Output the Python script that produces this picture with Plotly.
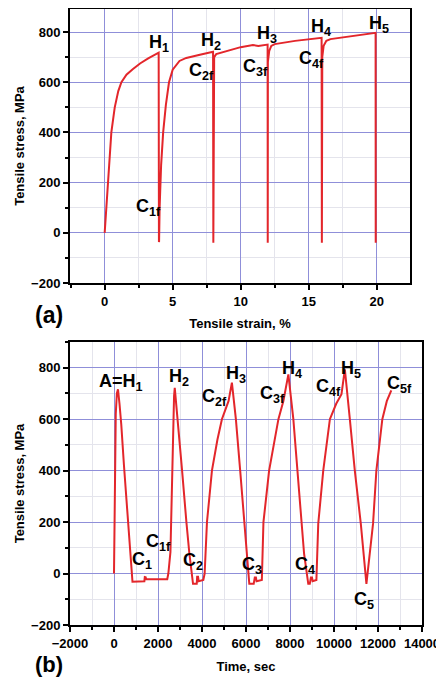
import plotly.graph_objects as go

# ---------------- data: panel (a) tensile stress vs strain ----------------
strain_a = [0, 0.1, 0.27, 0.49, 0.74, 1.0, 1.23, 1.6, 2.06, 2.6, 3.2, 3.97,
            3.99,
            4.0, 4.04, 4.15, 4.3, 4.5, 4.73, 5.0, 5.5, 6.0, 7.0, 7.97,
            7.99,
            8.0, 8.05, 8.2, 9.0, 10.0, 10.9, 11.3, 11.98,
            11.99,
            12.0, 12.1, 12.25, 12.5, 14.0, 15.95,
            15.97,
            16.0, 16.1, 16.3, 16.6, 18.0, 19.92,
            19.93]
stress_a = [0, 80, 200, 400, 500, 565, 600, 630, 652, 675, 695, 718,
            -37,
            -35, 100, 270, 400, 510, 600, 650, 685, 697, 710, 722,
            -40,
            660, 700, 712, 725, 740, 748, 745, 750,
            -40,
            681, 725, 745, 752, 765, 777,
            -40,
            701, 745, 765, 772, 783, 797,
            -40]

labels_a = ["H<sub>1</sub>", "H<sub>2</sub>", "H<sub>3</sub>", "H<sub>4</sub>", "H<sub>5</sub>",
            "C<sub>1f</sub>", "C<sub>2f</sub>", "C<sub>3f</sub>", "C<sub>4f</sub>"]
labels_a_x = [4.0, 7.8, 11.9, 15.9, 20.2, 3.2, 7.1, 11.1, 15.2]
labels_a_y = [755, 762, 790, 820, 830, 102, 641, 657, 690]

# ---------------- data: panel (b) tensile stress vs time ----------------
time_b = [0, 30, 80, 130, 181, 250, 330, 453, 600, 720, 800, 840,
          1380, 1400, 1440, 1460, 2420,
          2470, 2566, 2641, 2687, 2730, 2762, 2898, 3095, 3291, 3427, 3592,
          3760, 3780, 3820, 3850, 4060,
          4120, 4226, 4452, 4700, 4905, 5208, 5359, 5540, 5736, 5917, 6030, 6150,
          6350, 6400, 6450, 6480, 6720,
          6793, 7050, 7300, 7473, 7700, 7926, 8152, 8347, 8528, 8640, 8830,
          8900, 8950, 9000, 9030, 9200,
          9284, 9511, 9813, 10100, 10340, 10493, 10720, 10946, 11218, 11473,
          11775, 11926, 12197, 12400, 12604]
stress_b = [0, 400, 620, 700, 716, 660, 580, 420, 250, 100, 0, -32,
            -30, -14, -15, -22, -22,
            0, 84, 400, 600, 690, 722, 600, 400, 200, 77, -40,
            -40, -12, -12, -30, -25,
            0, 200, 400, 520, 600, 671, 742, 600, 400, 200, 77, -40,
            -40, -15, -15, -30, -25,
            200, 400, 520, 600, 671, 774, 600, 400, 194, 77, -40,
            -40, -15, -15, -30, -25,
            194, 400, 600, 660, 697, 794, 600, 400, 194, -40,
            194, 400, 600, 670, 712]

labels_b = ["A=H<sub>1</sub>", "H<sub>2</sub>", "H<sub>3</sub>", "H<sub>4</sub>", "H<sub>5</sub>",
            "C<sub>5f</sub>", "C<sub>2f</sub>", "C<sub>3f</sub>", "C<sub>4f</sub>",
            "C<sub>1f</sub>", "C<sub>1</sub>", "C<sub>2</sub>", "C<sub>3</sub>", "C<sub>4</sub>",
            "C<sub>5</sub>"]
labels_b_x = [302, 2944, 5540, 8076, 10793, 12983, 4574, 7201, 9768,
              2008, 1254, 3578, 6295, 8681, 11382]
labels_b_y = [742, 761, 774, 794, 794, 735, 684, 697, 722,
              122, 51, 45, 32, 32, -103]

# page body has an 8px margin, so the figure starts at (8, 8) in the window
OFF = 8
W, H = 444 - OFF, 679 - OFF
RED = "#e3262b"
GRID = "#8f8fd9"
MINOR = "#e4e4ec"
FONT = "Liberation Sans"

fig = go.Figure()
fig.add_trace(go.Scatter(x=strain_a, y=stress_a, mode="lines",
                         line=dict(color=RED, width=2), xaxis="x", yaxis="y",
                         showlegend=False, hoverinfo="skip"))
fig.add_trace(go.Scatter(x=time_b, y=stress_b, mode="lines",
                         line=dict(color=RED, width=2), xaxis="x2", yaxis="y2",
                         showlegend=False, hoverinfo="skip"))

def px_x(p):
    return min(1.0, max(0.0, (p - OFF) / W))

def px_y(p):
    return min(1.0, max(0.0, 1 - (p - OFF) / H))

common_axis = dict(
    showline=True, linecolor="black", linewidth=2, mirror=True,
    ticks="outside", ticklen=5, tickwidth=1.5, tickcolor="black",
    showgrid=True, gridcolor=GRID, gridwidth=1, zeroline=False,
    automargin=False,
    tickfont=dict(family=FONT, size=13, color="black", weight="bold"),
)

def axis(**kw):
    d = dict(common_axis)
    d.update(kw)
    return d

title_font = dict(family=FONT, size=13, color="black", weight="bold")

fig.update_layout(
    width=W, height=H,
    margin=dict(l=0, r=0, t=0, b=0),
    paper_bgcolor="white", plot_bgcolor="white",
    xaxis=axis(domain=[px_x(70), px_x(410)], range=[-2.55, 22.45], dtick=5, tick0=0,
               anchor="y",
               minor=dict(dtick=2.5, tick0=0, ticks="outside", ticklen=3, tickcolor="black",
                          showgrid=True, gridcolor=MINOR),
               title=dict(text="Tensile strain, %", standoff=11, font=title_font)),
    yaxis=axis(domain=[px_y(283), px_y(9)], range=[-200, 892], dtick=200, tick0=0,
               anchor="x",
               minor=dict(dtick=100, tick0=0, ticks="outside", ticklen=3, tickcolor="black",
                          showgrid=True, gridcolor=MINOR),
               title=dict(text="Tensile stress, MPa", standoff=4, font=title_font)),
    xaxis2=axis(domain=[px_x(70), px_x(422)], range=[-2000, 14000], dtick=2000, tick0=0,
                anchor="y2", tickformat="d",
                minor=dict(dtick=1000, tick0=0, ticks="outside", ticklen=3, tickcolor="black",
                           showgrid=True, gridcolor=MINOR),
                title=dict(text="Time, sec", standoff=12, font=title_font)),
    yaxis2=axis(domain=[px_y(625), px_y(342)], range=[-200, 900], dtick=200, tick0=0,
                anchor="x2",
                minor=dict(dtick=100, tick0=0, ticks="outside", ticklen=3, tickcolor="black",
                           showgrid=True, gridcolor=MINOR),
                title=dict(text="Tensile stress, MPa", standoff=4, font=title_font)),
)

lab_font = dict(family=FONT, size=18, color="black", weight="bold")
for t, x, y in zip(labels_a, labels_a_x, labels_a_y):
    fig.add_annotation(x=x, y=y, xref="x", yref="y", text=t, showarrow=False, font=lab_font)
for t, x, y in zip(labels_b, labels_b_x, labels_b_y):
    fig.add_annotation(x=x, y=y, xref="x2", yref="y2", text=t, showarrow=False, font=lab_font)

fig.add_annotation(x=px_x(33), y=px_y(315), xref="paper", yref="paper", text="(a)",
                   showarrow=False, font=dict(family=FONT, size=23, color="black", weight="bold"))
fig.add_annotation(x=px_x(34), y=px_y(678), xref="paper", yref="paper", text="(b)",
                   yanchor="bottom", borderpad=0,
                   showarrow=False, font=dict(family=FONT, size=22, color="black", weight="bold"))

fig.write_html("out.html")
